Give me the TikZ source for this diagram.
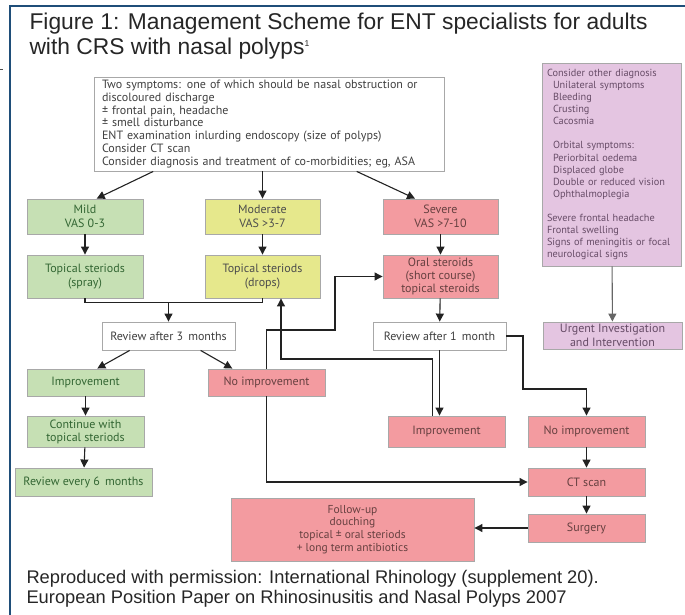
\documentclass[tikz,border=0pt]{standalone}
\usepackage{fontspec}
\setmainfont{Liberation Sans}
\newfontfamily\boxfont{PT Sans}
\usetikzlibrary{arrows.meta,calc}

\definecolor{frameblue}{HTML}{1F4E79}
\definecolor{mildgreen}{HTML}{C6E0B4}
\definecolor{modyellow}{HTML}{E6E88C}
\definecolor{sevred}{HTML}{F39BA0}
\definecolor{otherpurple}{HTML}{E4C5E1}
\definecolor{boxline}{HTML}{A8A8A8}
\definecolor{linkgray}{HTML}{222222}

\tikzset{
	stage/.style={draw=boxline, line width=0.9pt, align=center, inner sep=0pt,
		font=\boxfont\fontsize{12}{13.5}\selectfont, text=black!75},
	whitebox/.style={stage, fill=white},
	mildbox/.style={stage, fill=mildgreen, text=green!25!black!80},
	modbox/.style={stage, fill=modyellow, text=black!70},
	sevbox/.style={stage, fill=sevred, text=red!20!black!75},
	otherbox/.style={stage, fill=otherpurple, text=violet!30!black!70},
	link/.style={linkgray, line width=1.1pt, -{Triangle[length=8pt,width=8pt]}},
	plain/.style={linkgray, line width=1.1pt},
	heading/.style={anchor=base west, font=\fontsize{22.8}{25}\selectfont, text=black!85},
	credit/.style={anchor=base west, font=\fontsize{18.3}{20}\selectfont, text=black!85}
}

\begin{document}
\begin{tikzpicture}[x=1pt,y=-1pt]
	\useasboundingbox (0,0) rectangle (685,615);
	\draw[frameblue, line width=1.8pt] (10,615) -- (10,6) -- (685,6);
	\draw[black!70, line width=1pt] (0,70) -- (3,70);

	% title and source
	\node[heading] (title1) at (26,30) {Figure 1: Management Scheme for ENT specialists for adults};
	\node[heading] (title2) at (26,55) {with CRS with nasal polyps\raisebox{8pt}{\fontsize{8.5}{8.5}\selectfont 1}};
	\node[credit] (src1) at (23,583) {Reproduced with permission: International Rhinology (supplement 20).};
	\node[credit] (src2) at (23,603) {European Position Paper on Rhinosinusitis and Nasal Polyps 2007};

	% diagnosis
	\node[whitebox, minimum width=350, minimum height=94, text width=334, inner xsep=8, align=left,
		font=\boxfont\fontsize{12}{12.8}\selectfont] (top) at (269,124)
		{Two symptoms: one of which should be nasal obstruction or\\
		discoloured discharge\\
		± frontal pain, headache\\
		± smell disturbance\\
		ENT examination inlurding endoscopy (size of polyps)\\
		Consider CT scan\\
		Consider diagnosis and treatment of co-morbidities; eg, ASA};

	\node[otherbox, minimum width=139, minimum height=203, text width=129, inner xsep=5, align=left,
		font=\boxfont\fontsize{10.3}{12.1}\selectfont] (other) at (611.5,164.5)
		{Consider other diagnosis\\
		\hspace*{6pt}Unilateral symptoms\\
		\hspace*{6pt}Bleeding\\
		\hspace*{6pt}Crusting\\
		\hspace*{6pt}Cacosmia\\[12.1pt]
		\hspace*{6pt}Orbital symptoms:\\
		\hspace*{6pt}Periorbital oedema\\
		\hspace*{6pt}Displaced globe\\
		\hspace*{6pt}Double or reduced vision\\
		\hspace*{6pt}Ophthalmoplegia\\[12.1pt]
		Severe frontal headache\\
		Frontal swelling\\
		Signs of meningitis or focal\\
		neurological signs};
	\node[otherbox, minimum width=139, minimum height=27] (urgent) at (612.5,335.5) {Urgent Investigation\\and Intervention};

	% severity
	\node[mildbox, minimum width=116, minimum height=35] (mild) at (85,216.5) {Mild\\VAS 0-3};
	\node[modbox, minimum width=115, minimum height=35] (moderate) at (262.5,216.5) {Moderate\\VAS >3-7};
	\node[sevbox, minimum width=115, minimum height=35] (severe) at (440.5,216.5) {Severe\\VAS >7-10};

	% treatment
	\node[mildbox, minimum width=116, minimum height=43] (spray) at (85,276.5) {Topical steriods\\(spray)};
	\node[modbox, minimum width=115, minimum height=43] (drops) at (262.5,276.5) {Topical steriods\\(drops)};
	\node[sevbox, minimum width=115, minimum height=43, font=\boxfont\fontsize{12}{13.2}\selectfont] (oral) at (440.5,276.5) {Oral steroids\\(short course)\\topical steroids};

	% review
	\node[whitebox, minimum width=133, minimum height=28] (review3) at (168.5,336) {Review after 3\, months};
	\node[whitebox, minimum width=133, minimum height=28] (review1) at (439.5,336) {Review after 1\, month};

	% outcome
	\node[mildbox, minimum width=117, minimum height=27] (impr) at (85.5,382.5) {Improvement};
	\node[sevbox, minimum width=117, minimum height=27] (noimp) at (266.5,382.5) {No improvement};
	\node[mildbox, minimum width=117, minimum height=31, font=\boxfont\fontsize{12}{13}\selectfont] (cont) at (85.5,431.5) {Continue with\\topical steriods};
	\node[mildbox, minimum width=137, minimum height=28] (rev6) at (83.5,482) {Review every 6\, months};
	\node[sevbox, minimum width=117, minimum height=31] (imprR) at (446.5,431.5) {Improvement};
	\node[sevbox, minimum width=117, minimum height=31] (noimpR) at (586.5,431.5) {No improvement};
	\node[sevbox, minimum width=117, minimum height=28] (ct) at (586.5,482) {CT scan};
	\node[sevbox, minimum width=117, minimum height=28] (surgery) at (586.5,528) {Surgery};
	\node[sevbox, minimum width=243, minimum height=63, font=\boxfont\fontsize{11.5}{12.7}\selectfont] (follow) at (352.5,529.5)
		{Follow-up\\douching\\topical ± oral steriods\\+ long term antibiotics};

	% bends
	\coordinate (j3) at ($(review3.north)+(0,-19)$);
	\coordinate (k1) at (335,330);
	\coordinate (k2) at (281,359);
	\coordinate (k3) at ($(imprR.north west)!0.385!(imprR.north east)$);
	\coordinate (k4) at (523,389);

	% connectors
	\draw[link] ($(top.south west)!0.17!(top.south east)$) -- ($(mild.north west)!0.6!(mild.north east)$);
	\draw[link] (moderate.north |- top.south) -- (moderate.north);
	\draw[link] ($(top.south west)!0.75!(top.south east)$) -- ($(severe.north west)!0.28!(severe.north east)$);
	\draw[link] (mild) -- (spray);
	\draw[link] (moderate) -- (drops);
	\draw[link] (severe) -- (oral);
	\draw[plain] (spray.south) |- (j3) -| (drops.south);
	\draw[link] (j3) -- (review3.north);
	\draw[link] (oral) -- (review1);
	\draw[link] ($(review3.south west)!0.21!(review3.south east)$) -- ($(impr.north west)!0.6!(impr.north east)$);
	\draw[link] ($(review3.south west)!0.74!(review3.south east)$) -- ($(noimp.north west)!0.21!(noimp.north east)$);
	\draw[link] (impr) -- (cont);
	\draw[link] (cont) -- (rev6);
	\draw[link] (noimp.north) |- (k1) |- (oral.west);
	\draw[link] (noimp.south) |- (ct.west);
	\draw[link] (k3) |- (k2) -- (k2 |- drops.south);
	\draw[link] (review1.south) -- (review1.south |- imprR.north);
	\draw[link] (review1.east) -| (k4) -| (noimpR.north);
	\draw[link] (noimpR) -- (ct);
	\draw[link] (ct) -- (surgery);
	\draw[link] (surgery.west) -- (surgery.west -| follow.east);
	\draw[link, gray!80!black] (other) -- (urgent);
\end{tikzpicture}
\end{document}
